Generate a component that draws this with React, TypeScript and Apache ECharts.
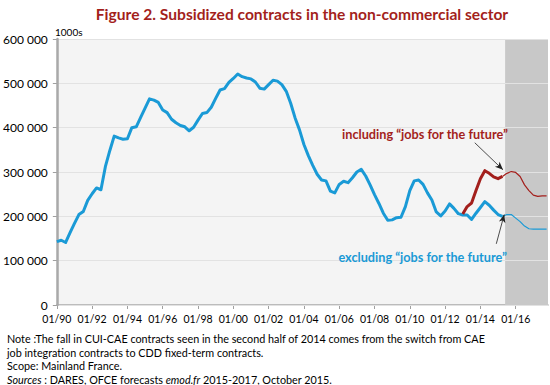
import React, { useEffect, useRef } from "react";
import * as echarts from "echarts";

// Quarterly series, in thousands (first quarter of 1990 = index 0)
const startYear = 1990;
const forecastStart = 2015.4;
const axisEnd = 2017.83;

// Excluding "jobs for the future": history, 1990Q1 .. 2015Q2
const excludingHist = [
  143, 146, 141, 163, 184, 204, 211, 236, 251, 264,
  260, 312, 348, 381, 377, 374, 375, 400, 402, 423,
  444, 465, 462, 457, 440, 434, 419, 411, 405, 402,
  393, 401, 417, 432, 434, 446, 466, 485, 488, 502,
  511, 521, 515, 512, 510, 503, 489, 487, 497, 507,
  505, 497, 482, 455, 422, 395, 362, 337, 315, 295,
  282, 280, 257, 253, 272, 279, 276, 287, 300, 306,
  291, 271, 249, 229, 207, 191, 192, 197, 198, 222,
  258, 280, 282, 272, 253, 237, 210, 201, 212, 228,
  218, 206, 203, 203, 193, 207, 220, 233, 225, 214,
  204, 200,
];
// Forecast, 2015Q2 .. 2017Q4
const excludingForecast = [200, 204, 204, 196, 188, 178, 172, 171, 171, 171, 171];

// Including "jobs for the future": history 2013Q1 .. 2015Q2
const includingStartIndex = 92;
const includingHist = [205, 222, 230, 258, 285, 303, 297, 289, 285, 290];
const includingForecast = [290, 297, 301, 299, 290, 271, 258, 248, 245, 246, 246];

const forecastStartIndex = 101;

const xTickYears = [1990, 1992, 1994, 1996, 1998, 2000, 2002, 2004, 2006, 2008, 2010, 2012, 2014, 2016];

const BLUE = "#1a9ad6";
const RED = "#a31f1c";
const FONT = "Lato";

const yearOf = (i: number) => startYear + i * 0.25;

export default function App() {
  const ref = useRef<HTMLDivElement>(null);
  useEffect(() => {
    document.body.style.margin = "0";
    if (!ref.current) return;
    const chart = echarts.init(ref.current, undefined, { renderer: "svg" });

    const exclH = excludingHist.map((v, k) => [yearOf(k), v]);
    const exclF = excludingForecast.map((v, k) => [yearOf(forecastStartIndex + k), v]);
    const inclH = includingHist.map((v, k) => [yearOf(includingStartIndex + k), v]);
    const inclF = includingForecast.map((v, k) => [yearOf(forecastStartIndex + k), v]);

    chart.setOption({
      animation: false,
      textStyle: { fontFamily: FONT },
      grid: {
        left: 54,
        right: 2,
        top: 39,
        bottom: 80,
        show: true,
        backgroundColor: "#f4f4f4",
        borderWidth: 0,
      },
      xAxis: {
        type: "value",
        min: startYear,
        max: axisEnd,
        axisLine: { show: true, onZero: false, lineStyle: { color: "#a9a9a9", width: 1.5 } },
        axisTick: { show: true, customValues: xTickYears, length: 4, lineStyle: { color: "#a0a0a0" } },
        axisLabel: {
          customValues: xTickYears,
          formatter: (v: number) => "01/" + String(v % 100).padStart(2, "0"),
          fontSize: 10.5,
          color: "#000",
          margin: 8,
          fontFamily: FONT,
        },
        splitLine: { show: false },
      },
      yAxis: {
        type: "value",
        min: 0,
        max: 600,
        interval: 100,
        z: 1.5,
        axisLine: { show: true, lineStyle: { color: "#a9a9a9", width: 2.5 } },
        axisTick: { show: true, length: 4, lineStyle: { color: "#a0a0a0" } },
        axisLabel: {
          formatter: (v: number) => (v === 0 ? "0" : v + " 000"),
          fontSize: 12,
          color: "#000",
          margin: 9,
          fontFamily: FONT,
        },
        splitLine: { show: true, lineStyle: { color: "#e2e2e2", width: 1 } },
      },
      series: [
        {
          type: "line",
          name: "forecast-zone",
          silent: true,
          z: 1,
          symbol: "none",
          data: [
            [forecastStart, 600],
            [axisEnd, 600],
          ],
          lineStyle: { width: 0 },
          areaStyle: { color: "#c8c8c8", opacity: 1 },
        },
        {
          type: "line",
          name: "excluding",
          z: 3,
          symbol: "none",
          data: exclH,
          lineStyle: { color: BLUE, width: 3, join: "round" },
        },
        {
          type: "line",
          name: "excluding-forecast",
          z: 3,
          symbol: "none",
          data: exclF,
          lineStyle: { color: BLUE, width: 1.2 },
        },
        {
          type: "line",
          name: "including",
          z: 4,
          symbol: "none",
          data: inclH,
          lineStyle: { color: RED, width: 3, join: "round" },
          markLine: {
            silent: true,
            symbol: ["none", "arrow"],
            symbolSize: [5, 8],
            label: { show: false },
            lineStyle: { color: "#222", width: 0.8, type: "solid" },
            data: [
              [{ coord: [2013.68, 366] }, { coord: [2015.28, 305] }],
              [{ coord: [2014.9, 138] }, { coord: [2015.35, 204] }],
            ],
          },
        },
        {
          type: "line",
          name: "including-forecast",
          z: 4,
          symbol: "none",
          data: inclF,
          lineStyle: { color: RED, width: 1.2 },
        },
      ],
      graphic: [
        {
          type: "text",
          x: 302,
          y: 14,
          style: {
            text: "Figure 2. Subsidized contracts in the non-commercial sector",
            fill: "#a31f1c",
            font: `bold 15.6px ${FONT}`,
            align: "center",
            verticalAlign: "middle",
          },
        },
        {
          type: "text",
          x: 55,
          y: 32,
          style: { text: "1000s", fill: "#000", font: `10px ${FONT}`, align: "left", verticalAlign: "middle" },
        },
        {
          type: "text",
          x: 508,
          y: 134,
          z: 10,
          style: {
            text: "including \u201Cjobs for the future\u201D",
            fill: RED,
            font: `bold 12.7px ${FONT}`,
            align: "right",
            verticalAlign: "middle",
          },
        },
        {
          type: "text",
          x: 507,
          y: 257,
          z: 10,
          style: {
            text: "excluding \u201Cjobs for the future\u201D",
            fill: BLUE,
            font: `bold 12.7px ${FONT}`,
            align: "right",
            verticalAlign: "middle",
          },
        },
        {
          type: "text",
          x: 7,
          y: 338,
          style: {
            text: "Note :The fall in CUI-CAE contracts seen in the second half of 2014 comes from the switch from CAE",
            fill: "#000",
            font: `10.8px ${FONT}`,
            verticalAlign: "middle",
          },
        },
        {
          type: "text",
          x: 7,
          y: 352,
          style: {
            text: "job integration contracts to CDD fixed-term contracts.",
            fill: "#000",
            font: `10.8px ${FONT}`,
            verticalAlign: "middle",
          },
        },
        {
          type: "text",
          x: 7,
          y: 365.5,
          style: { text: "Scope: Mainland France.", fill: "#000", font: `10.8px ${FONT}`, verticalAlign: "middle" },
        },
        {
          type: "text",
          x: 7,
          y: 379,
          style: {
            text: "{i|Sources} : DARES, OFCE forecasts {i|emod.fr} 2015-2017, October 2015.",
            fill: "#000",
            font: `10.8px ${FONT}`,
            verticalAlign: "middle",
            rich: { i: { fontStyle: "italic", fontSize: 10.8, fontFamily: FONT, fill: "#000" } },
          },
        },
      ],
    });
    return () => chart.dispose();
  }, []);
  return <div ref={ref} style={{ width: 550, height: 385 }} />;
}
